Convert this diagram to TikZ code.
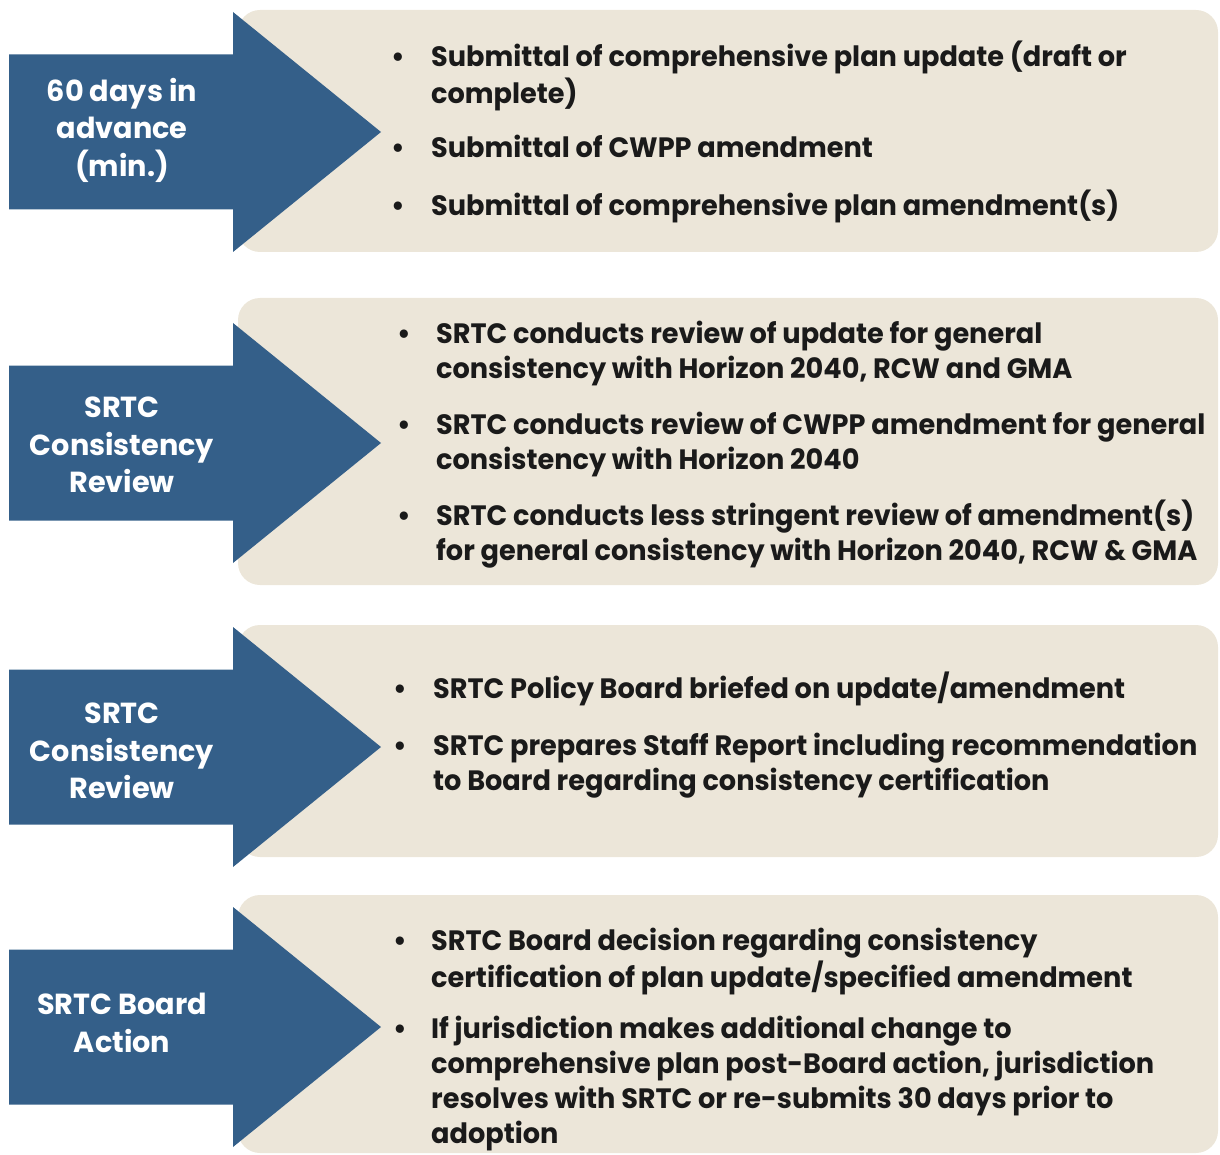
\documentclass[tikz,border=0pt]{standalone}
\usepackage{fontspec}
\setmainfont{Poppins}
\newfontfamily\stagefont{Poppins}[FakeStretch=0.99]
\newfontfamily\itemfont{Poppins}[FakeStretch=0.97]

\definecolor{stepblue}{HTML}{345F89}
\definecolor{sand}{HTML}{ECE6D9}
\definecolor{ink}{HTML}{1A1A1A}

% first-line baseline stays at the node's base
\newcommand{\lines}[1]{\begin{tabular}[t]{@{}l@{}}#1\end{tabular}}

\begin{document}
\begin{tikzpicture}[x=1pt,y=-1pt]

    \tikzstyle{panel}=[fill=sand, rounded corners=22pt]
    \tikzstyle{arrowbody}=[fill=stepblue]
    \tikzstyle{stage}=[font=\stagefont\bfseries\fontsize{29}{37.5}\selectfont, text=white, align=center, inner sep=0pt]
    \tikzstyle{dot}=[font=\itemfont\bfseries\fontsize{28}{35}\selectfont, text=ink, anchor=base, inner sep=0pt]
    \tikzstyle{point}=[dot, anchor=base west]

    \useasboundingbox (0,0) rectangle (1220,1155);

    % Arrow measures
    \def \shaftleft {9}
    \def \headbase {233}
    \def \tipx {381}
    \def \shafthalf {77.5}
    \def \headhalf {120}

    % Panels behind the lists
    \fill[panel] (238, 10)  rectangle (1218, 252);
    \fill[panel] (238, 298) rectangle (1218, 585);
    \fill[panel] (238, 625) rectangle (1218, 857);
    \fill[panel] (238, 895) rectangle (1218, 1153);

    % Arrows
    \foreach \c in {132, 443, 747, 1027} {
        \fill[arrowbody] (\shaftleft, \c-\shafthalf) -- (\headbase, \c-\shafthalf)
            -- (\headbase, \c-\headhalf) -- (\tipx, \c) -- (\headbase, \c+\headhalf)
            -- (\headbase, \c+\shafthalf) -- (\shaftleft, \c+\shafthalf) -- cycle;
    }

    % Stage names
    \node at (122, 130)  [stage] (S1) {60 days in\\ advance\\ (min.)};
    \node at (122, 445)  [stage] (S2) {SRTC\\ Consistency\\ Review};
    \node at (122, 751)  [stage] (S3) {SRTC\\ Consistency\\ Review};
    \node at (122, 1023) [stage] (S4) {SRTC Board\\ Action};

    % Points, first stage
    \node at (398, 67)  [dot]   (d11) {\textbullet};
    \node at (431, 67)  [point] (p11) {\lines{Submittal of comprehensive plan update (draft or\\ complete)}};
    \node at (398, 158) [dot]   (d12) {\textbullet};
    \node at (431, 158) [point] (p12) {Submittal of CWPP amendment};
    \node at (398, 216) [dot]   (d13) {\textbullet};
    \node at (431, 216) [point] (p13) {Submittal of comprehensive plan amendment(s)};

    % Points, second stage
    \node at (404, 344) [dot]   (d21) {\textbullet};
    \node at (436, 344) [point] (p21) {\lines{SRTC conducts review of update for general\\ consistency with Horizon 2040, RCW and GMA}};
    \node at (404, 434) [dot]   (d22) {\textbullet};
    \node at (436, 434) [point] (p22) {\lines{SRTC conducts review of CWPP amendment for general\\ consistency with Horizon 2040}};
    \node at (404, 525) [dot]   (d23) {\textbullet};
    \node at (436, 525) [point] (p23) {\lines{SRTC conducts less stringent review of amendment(s)\\ for general consistency with Horizon 2040, RCW \& GMA}};

    % Points, third stage
    \node at (400, 698) [dot]   (d31) {\textbullet};
    \node at (433, 698) [point] (p31) {SRTC Policy Board briefed on update/amendment};
    \node at (400, 755) [dot]   (d32) {\textbullet};
    \node at (433, 755) [point] (p32) {\lines{SRTC prepares Staff Report including recommendation\\ to Board regarding consistency certification}};

    % Points, fourth stage
    \node at (400, 950)  [dot]   (d41) {\textbullet};
    \node at (431, 950)  [point] (p41) {\lines{SRTC Board decision regarding consistency\\ certification of plan update/specified amendment}};
    \node at (400, 1038) [dot]   (d42) {\textbullet};
    \node at (431, 1038) [point] (p42) {\lines{If jurisdiction makes additional change to\\ comprehensive plan post-Board action, jurisdiction\\ resolves with SRTC or re-submits 30 days prior to\\ adoption}};

\end{tikzpicture}
\end{document}
